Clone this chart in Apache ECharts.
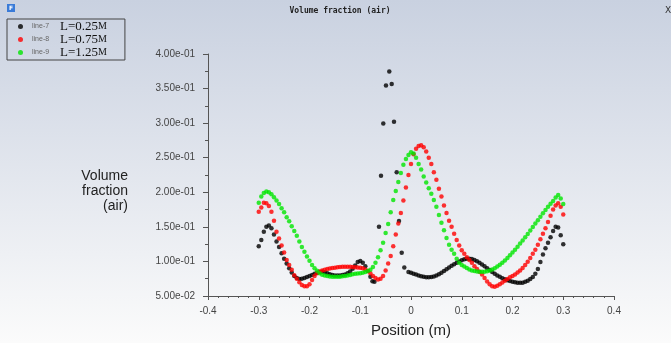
<!DOCTYPE html>
<html>
<head>
<meta charset="utf-8">
<script src="https://cdn.jsdelivr.net/npm/echarts@6/dist/echarts.min.js"></script>
<style>
	html, body { margin: 0; padding: 0; }
	#chart { width: 671px; height: 343px; }
</style>
</head>
<body>
<div id="chart"></div>
<script>
	// positions along the line (m), shared by line-8 and line-9
	const positions = [
		-0.3, -0.295, -0.29, -0.285, -0.28, -0.275, -0.27, -0.265, -0.26, -0.255,
		-0.25, -0.245, -0.24, -0.235, -0.23, -0.225, -0.22, -0.215, -0.21, -0.205,
		-0.2, -0.195, -0.19, -0.185, -0.18, -0.175, -0.17, -0.165, -0.16, -0.155,
		-0.15, -0.145, -0.14, -0.135, -0.13, -0.125, -0.12, -0.115, -0.11, -0.105,
		-0.1, -0.095, -0.09, -0.085, -0.08, -0.075, -0.07, -0.065, -0.06, -0.055,
		-0.05, -0.045, -0.04, -0.035, -0.03, -0.025, -0.02, -0.015, -0.01, -0.005,
		0, 0.005, 0.01, 0.015, 0.02, 0.025, 0.03, 0.035, 0.04, 0.045,
		0.05, 0.055, 0.06, 0.065, 0.07, 0.075, 0.08, 0.085, 0.09, 0.095,
		0.1, 0.105, 0.11, 0.115, 0.12, 0.125, 0.13, 0.135, 0.14, 0.145,
		0.15, 0.155, 0.16, 0.165, 0.17, 0.175, 0.18, 0.185, 0.19, 0.195,
		0.2, 0.205, 0.21, 0.215, 0.22, 0.225, 0.23, 0.235, 0.24, 0.245,
		0.25, 0.255, 0.26, 0.265, 0.27, 0.275, 0.28, 0.285, 0.29, 0.295,
		0.3
	];

	// line-8 (L=0.75M)
	const line8 = [
		0.172, 0.178, 0.185, 0.184, 0.18, 0.172, 0.159, 0.143, 0.133, 0.123,
		0.113, 0.102, 0.095, 0.088, 0.08, 0.075, 0.07, 0.066, 0.064, 0.064,
		0.067, 0.073, 0.079, 0.083, 0.0855, 0.087, 0.088, 0.089, 0.0898, 0.0905,
		0.091, 0.0915, 0.092, 0.0922, 0.0923, 0.0923, 0.0922, 0.092, 0.0917, 0.0913,
		0.0908, 0.09, 0.0885, 0.086, 0.083, 0.079, 0.076, 0.074, 0.075, 0.079,
		0.087, 0.097, 0.108, 0.122, 0.139, 0.155, 0.17, 0.188, 0.207, 0.225,
		0.241, 0.255, 0.263, 0.267, 0.268, 0.265, 0.259, 0.25, 0.241, 0.229,
		0.218, 0.205, 0.194, 0.181, 0.17, 0.159, 0.15, 0.14, 0.131, 0.123,
		0.116, 0.111, 0.106, 0.102, 0.098, 0.093, 0.089, 0.085, 0.081, 0.076,
		0.071, 0.067, 0.064, 0.0635, 0.065, 0.067, 0.0695, 0.072, 0.0745, 0.077,
		0.079, 0.081, 0.084, 0.087, 0.0905, 0.095, 0.0995, 0.105, 0.111, 0.117,
		0.124, 0.132, 0.14, 0.148, 0.157, 0.166, 0.175, 0.181, 0.184, 0.179,
		0.168
	];

	// line-9 (L=1.25M)
	const line9 = [
		0.185, 0.194, 0.199, 0.201, 0.2, 0.197, 0.193, 0.188, 0.183, 0.177,
		0.171, 0.164, 0.158, 0.151, 0.144, 0.137, 0.129, 0.121, 0.114, 0.107,
		0.101, 0.095, 0.09, 0.0865, 0.083, 0.0808, 0.0795, 0.079, 0.0782, 0.0778,
		0.0777, 0.0778, 0.078, 0.0785, 0.079, 0.0797, 0.0805, 0.0813, 0.082, 0.0825,
		0.083, 0.0838, 0.0848, 0.086, 0.088, 0.092, 0.098, 0.106, 0.116, 0.127,
		0.141, 0.154, 0.171, 0.189, 0.202, 0.215, 0.228, 0.24, 0.248, 0.254,
		0.258, 0.256, 0.25, 0.241, 0.233, 0.223, 0.214, 0.206, 0.198, 0.189,
		0.179, 0.167, 0.156, 0.145, 0.134, 0.124, 0.117, 0.111, 0.104, 0.098,
		0.095, 0.0925, 0.0905, 0.0885, 0.087, 0.086, 0.0855, 0.0852, 0.085, 0.0852,
		0.0857, 0.0868, 0.0883, 0.0902, 0.0925, 0.0952, 0.0982, 0.1015, 0.105, 0.1088,
		0.1128, 0.117, 0.1213, 0.1258, 0.1303, 0.135, 0.1398, 0.1447, 0.1497, 0.1547,
		0.1597, 0.1647, 0.1697, 0.1745, 0.1792, 0.1835, 0.1875, 0.1925, 0.196, 0.191,
		0.183
	];

	// line-7 (L=0.25M) has its own positions: scattered points near the centre
	const line7X = [
		-0.3, -0.295, -0.29, -0.285, -0.28, -0.275, -0.27, -0.265, -0.26, -0.255,
		-0.25, -0.245, -0.24, -0.235, -0.23, -0.225, -0.22, -0.215, -0.21, -0.205,
		-0.2, -0.195, -0.19, -0.185, -0.18, -0.175, -0.17, -0.165, -0.16, -0.155,
		-0.15, -0.145, -0.14, -0.135, -0.13, -0.125, -0.12, -0.115, -0.11, -0.105,
		-0.1, -0.095, -0.09, -0.085, -0.08, -0.076, -0.072,
		-0.0631, -0.0591, -0.0546, -0.0493, -0.0428, -0.038, -0.0335, -0.0282, -0.0236, -0.0183, -0.0132,
		-0.005, 0, 0.005, 0.01, 0.015, 0.02, 0.025, 0.03, 0.035, 0.04, 0.045,
		0.05, 0.055, 0.06, 0.065, 0.07, 0.075, 0.08, 0.085, 0.09, 0.095,
		0.1, 0.105, 0.11, 0.115, 0.12, 0.125, 0.13, 0.135, 0.14, 0.145,
		0.15, 0.155, 0.16, 0.165, 0.17, 0.175, 0.18, 0.185, 0.19, 0.195,
		0.2, 0.205, 0.21, 0.215, 0.22, 0.225, 0.23, 0.235, 0.24, 0.245,
		0.25, 0.255, 0.26, 0.265, 0.27, 0.275, 0.28, 0.285, 0.29, 0.295,
		0.3
	];
	const line7 = [
		0.122, 0.131, 0.143, 0.15, 0.152, 0.148, 0.139, 0.129, 0.121, 0.112,
		0.104, 0.097, 0.09, 0.084, 0.079, 0.076, 0.0745, 0.0748, 0.076, 0.0775,
		0.079, 0.0805, 0.082, 0.0835, 0.0848, 0.0852, 0.0845, 0.083, 0.0815, 0.0803,
		0.0797, 0.0795, 0.0797, 0.0802, 0.0812, 0.083, 0.0855, 0.0895, 0.094, 0.099,
		0.1005, 0.098, 0.093, 0.086, 0.078, 0.0715, 0.0705,
		0.15, 0.224, 0.2996, 0.3545, 0.3746, 0.3565, 0.302, 0.229, 0.1586, 0.1127, 0.0912,
		0.0848, 0.0835, 0.0822, 0.081, 0.0798, 0.0787, 0.0778, 0.0772, 0.077, 0.0773, 0.0782,
		0.0797, 0.0815, 0.0838, 0.0862, 0.0888, 0.0913, 0.0938, 0.096, 0.098, 0.1,
		0.1017, 0.103, 0.1038, 0.104, 0.1035, 0.1022, 0.1003, 0.098, 0.0955, 0.093,
		0.0902, 0.0875, 0.0848, 0.0822, 0.0798, 0.0777, 0.0758, 0.0742, 0.0728, 0.0716,
		0.0706, 0.0698, 0.0692, 0.069, 0.0692, 0.0705, 0.0722, 0.0745, 0.0775, 0.082,
		0.089, 0.099, 0.11, 0.119, 0.127, 0.135, 0.144, 0.15, 0.149, 0.138,
		0.125
	];

	const seriesNames = ['line-7', 'line-8', 'line-9'];
	const seriesLabels = ['L=0.25', 'L=0.75', 'L=1.25'];
	const seriesColors = ['#000000', '#ff0000', '#00e600'];

	const pairs = (xs, ys) => xs.map((x, i) => [x, ys[i]]);
	const seriesData = [pairs(line7X, line7), pairs(positions, line8), pairs(positions, line9)];

	const chart = echarts.init(document.getElementById('chart'));
	const axisColor = '#555';

	chart.setOption({
		animation: false,
		backgroundColor: {
			type: 'linear', x: 0, y: 0, x2: 0, y2: 1,
			colorStops: [
				{ offset: 0, color: '#c9d1e0' },
				{ offset: 1, color: '#fbfbfb' }
			]
		},
		textStyle: { fontFamily: 'Liberation Sans' },
		grid: { left: 208, right: 57, top: 54, bottom: 45 },
		legend: {
			orient: 'vertical',
			left: 7,
			top: 19,
			padding: [1, 18, 1, 11],
			itemGap: 0,
			itemWidth: 5,
			itemHeight: 5,
			borderColor: '#444',
			borderWidth: 1,
			selectedMode: false,
			data: seriesNames.map(n => ({ name: n, icon: 'circle' })),
			formatter: name => {
				const i = seriesNames.indexOf(name);
				return '{a|' + name + '}{b|' + seriesLabels[i] + '}{c|M}';
			},
			textStyle: {
				rich: {
					a: { fontSize: 7, color: '#666', width: 28, padding: [0, 0, 0, 4], lineHeight: 15.5 },
					b: { fontSize: 13, color: '#111', fontFamily: 'Liberation Serif', lineHeight: 15.5 },
					c: { fontSize: 10, color: '#111', fontFamily: 'Liberation Serif', lineHeight: 15.5 }
				}
			}
		},
		xAxis: {
			type: 'value',
			min: -0.4,
			max: 0.4,
			interval: 0.1,
			name: 'Position (m)',
			nameLocation: 'middle',
			nameGap: 27,
			nameTextStyle: { fontSize: 15, color: '#222' },
			axisLine: { onZero: false, lineStyle: { color: axisColor } },
			axisTick: { length: 4, lineStyle: { color: axisColor } },
			minorTick: { show: true, splitNumber: 5, length: 2, lineStyle: { color: axisColor } },
			axisLabel: { fontSize: 10, color: '#444', margin: 10 },
			splitLine: { show: false }
		},
		yAxis: {
			type: 'value',
			min: 0.05,
			max: 0.4,
			interval: 0.05,
			axisLine: { show: true, onZero: false, lineStyle: { color: axisColor } },
			axisTick: { show: true, length: 5, lineStyle: { color: axisColor } },
			minorTick: { show: true, splitNumber: 2, length: 3, lineStyle: { color: axisColor } },
			axisLabel: {
				fontSize: 10,
				color: '#444',
				margin: 13,
				formatter: v => v.toExponential(2).replace(/e([+-])(\d)$/, 'e$10$2')
			},
			splitLine: { show: false }
		},
		graphic: [
			{ type: 'rect', left: 7, top: 4, shape: { width: 8, height: 8 }, style: { fill: '#3a7bd8' } },
			{ type: 'text', left: 9, top: 5, style: { text: 'F', fill: '#fff', font: 'bold 6px DejaVu Sans' } },
			{
				type: 'text', x: 340, y: 11,
				style: { text: 'Volume fraction (air)', fill: '#222', font: 'bold 8px DejaVu Sans Mono', align: 'center', verticalAlign: 'middle' }
			},
			{ type: 'text', x: 665, y: 11, style: { text: 'X', fill: '#333', font: '9px DejaVu Sans', verticalAlign: 'middle' } },
			{
				type: 'text', x: 128, y: 191,
				style: {
					text: 'Volume\nfraction\n(air)', fill: '#222', font: '14px Liberation Sans',
					align: 'right', verticalAlign: 'middle', lineHeight: 15
				}
			}
		],
		series: seriesNames.map((name, i) => ({
			name: name,
			type: 'scatter',
			symbol: 'circle',
			symbolSize: 4.5,
			itemStyle: { color: seriesColors[i] },
			data: seriesData[i]
		}))
	});
</script>
</body>
</html>
